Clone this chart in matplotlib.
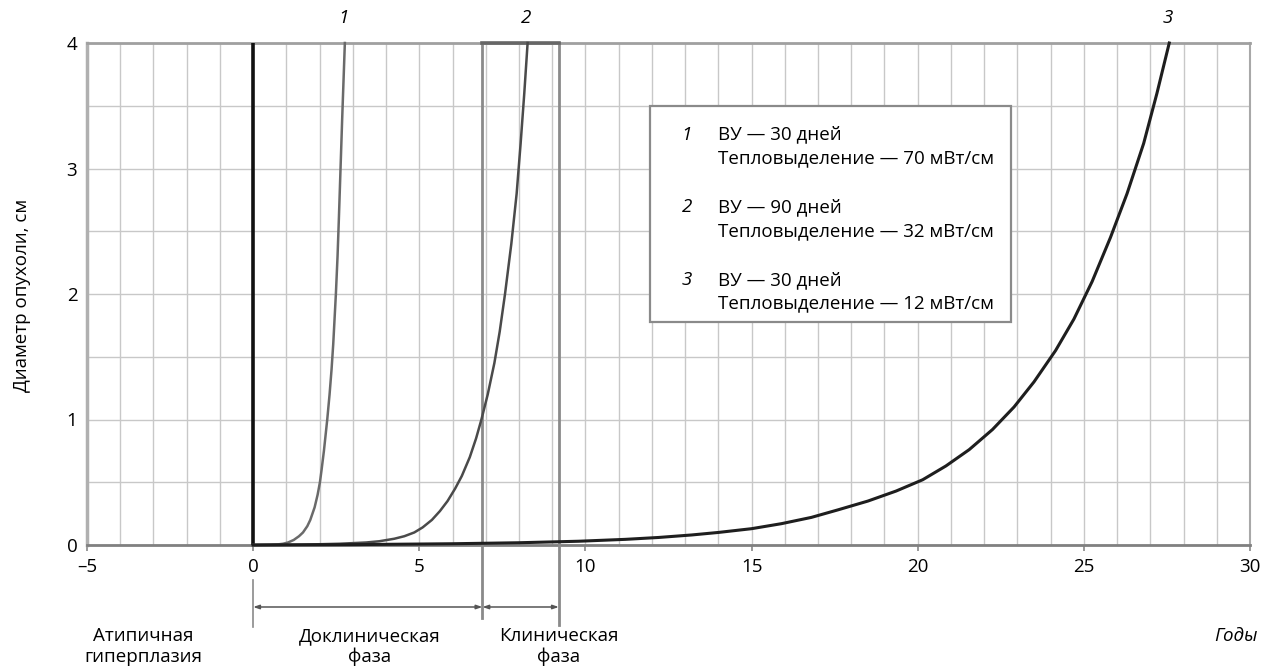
import matplotlib
matplotlib.use("Agg")
import matplotlib.pyplot as plt
from matplotlib.transforms import blended_transform_factory
from matplotlib.patches import Rectangle

plt.rcParams['font.family'] = ['Open Sans', 'DejaVu Sans']

# ---- data ----
curve1_x = [0, 0.5, 0.75, 0.9, 1.05, 1.22, 1.38, 1.50, 1.63, 1.72, 1.85, 1.94, 2.01, 2.06,
            2.13, 2.19, 2.23, 2.30, 2.36, 2.41, 2.45, 2.49, 2.54, 2.58, 2.63, 2.68, 2.72, 2.76]
curve1_y = [0, 0.002, 0.005, 0.01, 0.02, 0.04, 0.07, 0.1, 0.15, 0.2, 0.3, 0.4, 0.5, 0.6,
            0.75, 0.9, 1.0, 1.2, 1.4, 1.6, 1.8, 2.0, 2.3, 2.6, 3.0, 3.4, 3.7, 4.0]

curve2_x = [0, 1.5, 2.6, 3.4, 3.8, 4.25, 4.55, 4.85, 5.1, 5.38, 5.62, 5.85, 6.08, 6.28,
            6.52, 6.71, 6.87, 7.06, 7.26, 7.42, 7.58, 7.77, 7.93, 8.05, 8.16, 8.26]
curve2_y = [0, 0.003, 0.01, 0.02, 0.03, 0.05, 0.07, 0.1, 0.14, 0.2, 0.27, 0.35, 0.45, 0.55,
            0.7, 0.85, 1.0, 1.2, 1.45, 1.7, 2.0, 2.4, 2.8, 3.2, 3.6, 4.0]

curve3_x = [0, 3, 6, 8, 9.8, 11.2, 12.2, 13.2, 14.0, 15.0, 15.9, 16.8, 17.6, 18.5, 19.35,
            20.15, 20.85, 21.55, 22.25, 22.9, 23.5, 24.15, 24.7, 25.25, 25.8, 26.3, 26.8,
            27.2, 27.57]
curve3_y = [0, 0.003, 0.01, 0.018, 0.03, 0.045, 0.06, 0.08, 0.1, 0.13, 0.17, 0.22, 0.28,
            0.35, 0.43, 0.52, 0.63, 0.76, 0.92, 1.1, 1.3, 1.55, 1.8, 2.1, 2.45, 2.8, 3.2,
            3.6, 4.0]

curve_labels = ["1", "2", "3"]
legend_days = ["30", "90", "30"]
legend_heat = ["70", "32", "12"]

xticks = [-5, 0, 5, 10, 15, 20, 25, 30]
xtick_labels = ["\u20135", "0", "5", "10", "15", "20", "25", "30"]
yticks = [0, 1, 2, 3, 4]
ytick_labels = ["0", "1", "2", "3", "4"]

preclinical_start = 0
clinical_start = 6.9
clinical_end = 9.2

ylabel = "Диаметр опухоли, см"
xlabel = "Годы"
phase_labels = ["Атипичная\nгиперплазия", "Доклиническая\nфаза", "Клиническая\nфаза"]
phase_label_x = [-3.3, 3.5, 9.2]

FS = 13.5

# ---- figure ----
W, H = 1264, 668
fig = plt.figure(figsize=(W / 100, H / 100), dpi=100)
ax = fig.add_axes([87 / W, (H - 545) / H, (1250 - 87) / W, (545 - 43) / H])
ax.set_xlim(-5, 30)
ax.set_ylim(0, 4)

ax.set_xticks(xticks)
ax.set_xticklabels(xtick_labels)
ax.set_xticks(range(-5, 31), minor=True)
ax.set_yticks(yticks)
ax.set_yticklabels(ytick_labels)
ax.set_yticks([i * 0.5 for i in range(9)], minor=True)
ax.grid(which='both', color='#c8c8c8', lw=1.0, zorder=0)
ax.set_axisbelow(True)
ax.tick_params(axis='x', which='major', length=4, width=1.2, color='#888888',
               direction='out', pad=5, labelsize=FS)
ax.tick_params(axis='x', which='minor', length=0)
ax.tick_params(axis='y', which='both', length=0, pad=7, labelsize=FS)

for side, c, lw in [('left', '#b0b0b0', 2.5), ('bottom', '#808080', 2.0),
                    ('top', '#a0a0a0', 2.0), ('right', '#a8a8a8', 1.5)]:
    ax.spines[side].set_color(c)
    ax.spines[side].set_linewidth(lw)

# vertical line at start (0)
ax.plot([preclinical_start, preclinical_start], [0, 4], color='#111111', lw=2.6, zorder=4)

trans = blended_transform_factory(ax.transData, ax.transAxes)

# clinical box
ax.plot([clinical_start, clinical_start], [-0.145, 1], transform=trans,
        color='#8a8a8a', lw=2.0, clip_on=False, zorder=3)
ax.plot([clinical_end, clinical_end], [-0.159, 1], transform=trans,
        color='#8a8a8a', lw=2.0, clip_on=False, zorder=3)
ax.plot([clinical_start, clinical_end], [1, 1], transform=trans,
        color='#666666', lw=2.6, clip_on=False, zorder=3)
ax.plot([preclinical_start, preclinical_start], [-0.069, -0.163], transform=trans,
        color='#8a8a8a', lw=1.2, clip_on=False)

# curves
ax.plot(curve1_x, curve1_y, color='#6a6a6a', lw=1.8, zorder=5, clip_on=False)
ax.plot(curve2_x, curve2_y, color='#4a4a4a', lw=1.8, zorder=5, clip_on=False)
ax.plot(curve3_x, curve3_y, color='#1e1e1e', lw=2.2, zorder=5, clip_on=False)

for lab, cx in zip(curve_labels, [curve1_x[-1], curve2_x[-1], curve3_x[-1]]):
    ax.annotate(lab, xy=(cx, 4), xytext=(-1, 18), textcoords='offset points',
                ha='center', va='center', style='italic', fontsize=FS,
                annotation_clip=False)

# legend box
ax.add_patch(Rectangle((11.95, 1.78), 10.85, 1.72, facecolor='white',
                       edgecolor='#8a8a8a', lw=1.6, zorder=3))
rows = [(3.27, 3.08), (2.69, 2.50), (2.11, 1.93)]
for (y1, y2), n, d, h in zip(rows, curve_labels, legend_days, legend_heat):
    ax.text(13.05, y1, n, ha='center', va='center', style='italic', fontsize=FS, zorder=6)
    ax.text(14.0, y1, f"ВУ — {d} дней", ha='left', va='center', fontsize=FS, zorder=6)
    ax.text(14.0, y2, f"Тепловыделение — {h} мВт/см", ha='left', va='center',
            fontsize=FS, zorder=6)

# phase arrows
arrow_y = -0.1235
for a, b in [(preclinical_start, clinical_start), (clinical_start, clinical_end)]:
    ax.annotate('', xy=(b, arrow_y), xytext=(a, arrow_y), xycoords=trans, textcoords=trans,
                arrowprops=dict(arrowstyle='<|-|>,head_length=0.35,head_width=0.12',
                                color='#555555', lw=1.1, shrinkA=0, shrinkB=0),
                annotation_clip=False)

for lab, lx in zip(phase_labels, phase_label_x):
    ax.text(lx, -0.163, lab, transform=trans, ha='center', va='top', fontsize=FS,
            linespacing=1.2, clip_on=False)

fig.text(1258 / W, 1 - 636 / H, xlabel, ha='right', va='center', style='italic', fontsize=FS)
fig.text(22 / W, 1 - 295 / H, ylabel, rotation=90, ha='center', va='center', fontsize=FS)

fig.savefig("out.png", dpi=100, facecolor='white')
